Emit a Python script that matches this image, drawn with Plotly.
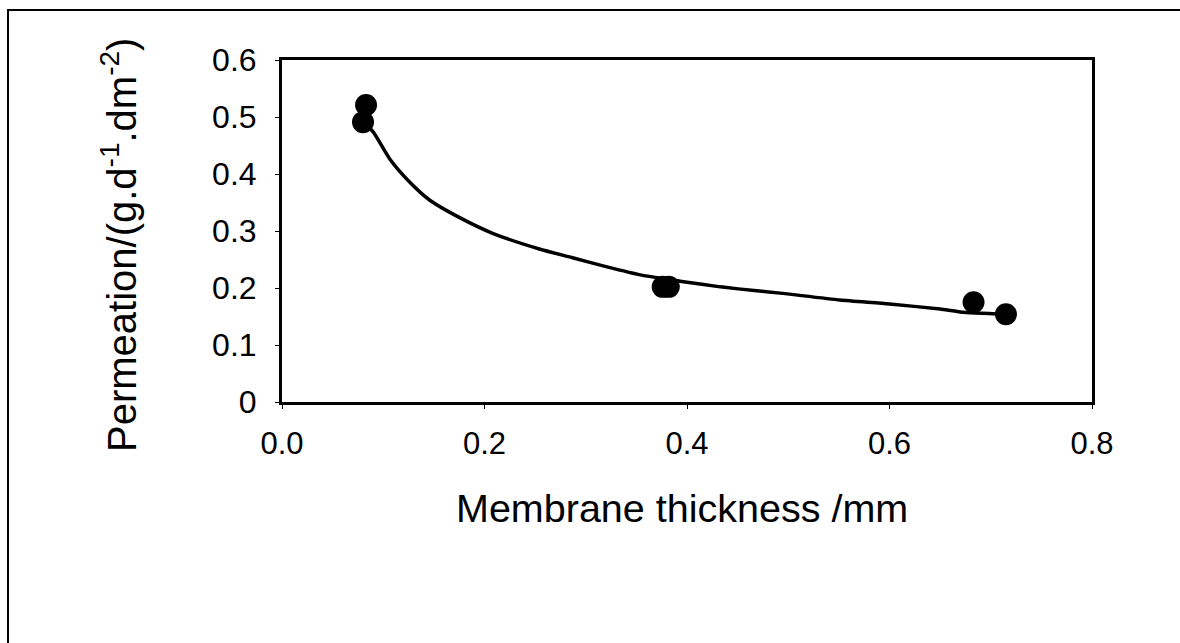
import plotly.graph_objects as go

# Measured points
thickness_mm = [0.083, 0.080, 0.376, 0.382, 0.683, 0.715]
permeation = [0.521, 0.491, 0.202, 0.202, 0.175, 0.154]

# Fitted trend curve
curve_x = [0.080, 0.090, 0.107, 0.126, 0.146, 0.176, 0.208, 0.255, 0.287, 0.321,
           0.354, 0.393, 0.433, 0.469, 0.492, 0.551, 0.600, 0.650, 0.670, 0.715]
curve_y = [0.491, 0.474, 0.425, 0.386, 0.354, 0.323, 0.296, 0.268, 0.253, 0.237,
           0.223, 0.212, 0.202, 0.195, 0.191, 0.179, 0.172, 0.163, 0.158, 0.154]

x_ticks = [0.0, 0.2, 0.4, 0.6, 0.8]
x_ticktext = ["0.0", "0.2", "0.4", "0.6", "0.8"]
y_ticks = [0, 0.1, 0.2, 0.3, 0.4, 0.5, 0.6]
y_ticktext = ["0", "0.1", "0.2", "0.3", "0.4", "0.5", "0.6"]

FONT = "Liberation Sans, Arial, sans-serif"

fig = go.Figure()
fig.add_trace(go.Scatter(
    x=curve_x, y=curve_y, mode="lines",
    line=dict(color="black", width=3.5, shape="spline", smoothing=0.6),
    hoverinfo="skip", showlegend=False,
))
fig.add_trace(go.Scatter(
    x=thickness_mm, y=permeation, mode="markers",
    marker=dict(color="black", size=22, line=dict(width=0)),
    showlegend=False,
))

fig.update_layout(
    width=1180, height=643,
    margin=dict(l=282, r=88, t=60, b=241),
    paper_bgcolor="white", plot_bgcolor="white",
    font=dict(family=FONT, color="black", size=31),
    xaxis=dict(
        range=[0, 0.8], tickvals=x_ticks, ticktext=x_ticktext,
        showgrid=False, zeroline=False,
        showline=True, mirror=True, linecolor="black", linewidth=3,
        ticks="outside", ticklen=4, tickwidth=1, tickcolor="black",
        ticklabelstandoff=8,
        tickfont=dict(size=31, family=FONT, color="black"),
    ),
    yaxis=dict(
        range=[0, 0.6], tickvals=y_ticks, ticktext=y_ticktext,
        showgrid=False, zeroline=False,
        showline=True, mirror=True, linecolor="black", linewidth=3,
        ticks="outside", ticklen=4, tickwidth=1, tickcolor="black",
        ticklabelstandoff=12,
        tickfont=dict(size=32, family=FONT, color="black"),
    ),
    annotations=[
        dict(text="Membrane thickness /mm", xref="paper", yref="paper",
             x=(682 - 282) / 810, y=(402 - 508) / 342,
             xanchor="center", yanchor="middle", showarrow=False,
             font=dict(size=39.5, family=FONT, color="black")),
        dict(text="Permeation/(g.d<sup>-1</sup>.dm<sup>-2</sup>)",
             xref="paper", yref="paper",
             x=(119 - 282) / 810, y=(402 - 245) / 342,
             xanchor="center", yanchor="middle", textangle=-90, showarrow=False,
             font=dict(size=40, family=FONT, color="black")),
    ],
    shapes=[
        dict(type="path", xref="paper", yref="paper",
             path="M {l},{b} L {l},{t} L {r},{t}".format(
                 l=(8 - 282) / 810, b=(402 - 650) / 342,
                 t=(402 - 10) / 342, r=(1190 - 282) / 810),
             line=dict(color="black", width=2)),
    ],
)

fig.write_html("out.html")
